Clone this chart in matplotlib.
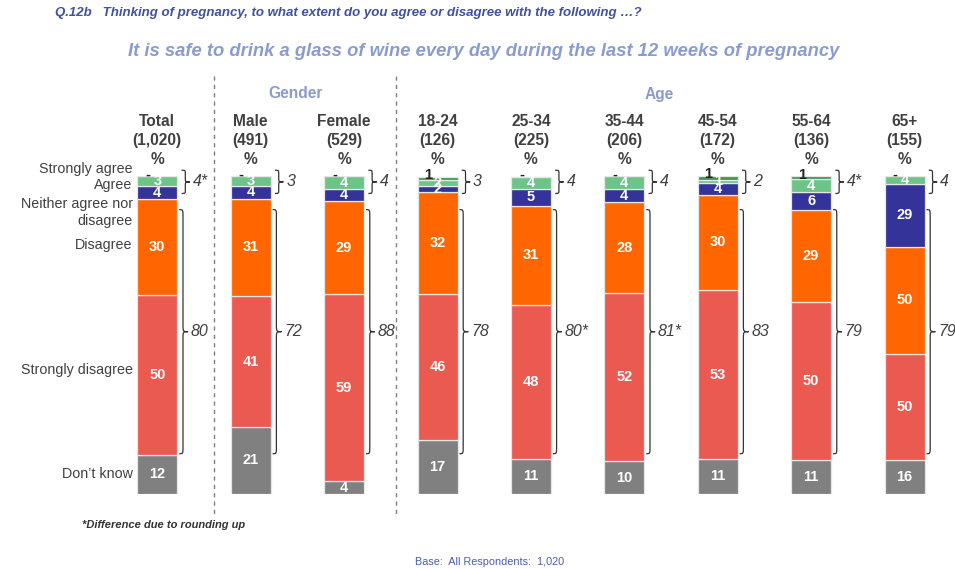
import matplotlib
matplotlib.use("Agg")
import matplotlib.pyplot as plt
from matplotlib.path import Path
from matplotlib.patches import PathPatch
from matplotlib.transforms import blended_transform_factory

plt.rcParams['font.family'] = ['Liberation Sans', 'DejaVu Sans']

# ---------------- data ----------------
categories = ["Total", "Male", "Female", "18-24", "25-34", "35-44", "45-54", "55-64", "65+"]
bases = ["(1,020)", "(491)", "(529)", "(126)", "(225)", "(206)", "(172)", "(136)", "(155)"]

# bar heights (%) as drawn in the picture
dont_know = [12.1, 21.0, 3.9, 17.0, 10.9, 10.2, 10.9, 10.6, 10.6]
strongly_disagree = [50.6, 41.2, 59.0, 45.9, 48.6, 53.0, 53.2, 49.7, 33.5]
disagree = [30.15, 30.75, 29.2, 32.0, 31.3, 28.6, 30.1, 29.0, 33.7]
neither = [4.0, 3.9, 3.9, 2.0, 5.1, 4.2, 3.7, 5.8, 19.7]
agree = [3.15, 3.15, 4.0, 2.0, 4.0, 4.0, 1.05, 3.9, 2.5]
strongly_agree = [0, 0, 0, 1.0, 0, 0, 1.05, 0.95, 0]

# printed value labels
dk_lbl = ["12", "21", "4", "17", "11", "10", "11", "11", "16"]
sd_lbl = ["50", "41", "59", "46", "48", "52", "53", "50", "50"]
d_lbl = ["30", "31", "29", "32", "31", "28", "30", "29", "50"]
n_lbl = ["4", "4", "4", "2", "5", "4", "4", "6", "29"]
a_lbl = ["3", "3", "4", "2", "4", "4", "1", "4", "4"]
sa_lbl = ["-", "-", "-", "1", "-", "-", "1", "1", "-"]
agree_net = ["4*", "3", "4", "3", "4", "4", "2", "4*", "4"]
disagree_net = ["80", "72", "88", "78", "80*", "81*", "83", "79", "79"]

row_labels = ["Strongly agree", "Agree", "Neither agree nor", "disagree", "Disagree",
              "Strongly disagree", "Don\u2019t know"]

# ---------------- style ----------------
W, H = 955, 569
C_SA = "#3a9a55"
C_A = "#6cc487"
C_N = "#333399"
C_D = "#ff6600"
C_SD = "#eb5a50"
C_DK = "#808080"
TXT = "#404040"

fig = plt.figure(figsize=(W / 100, H / 100), dpi=100)

def fx(px):
    return px / W

def fy(py):
    return 1 - py / H

spacing = 93.4
first = 157.3
bottom_px = 493.7
ppp = 3.174  # pixels per percent
ax = fig.add_axes([fx(first - 0.5 * spacing), (H - bottom_px) / H,
                   9 * spacing / W, 100 * ppp / H])
ax.set_xlim(-0.5, 8.5)
ax.set_ylim(0, 100)
ax.axis("off")

x = list(range(len(categories)))
series = [dont_know, strongly_disagree, disagree, neither, agree, strongly_agree]
labels = [dk_lbl, sd_lbl, d_lbl, n_lbl, a_lbl, None]
colors = [C_DK, C_SD, C_D, C_N, C_A, C_SA]
bw = 40 / spacing
bottoms = [0.0] * len(x)
for vals, lbls, col in zip(series, labels, colors):
    ax.bar(x, vals, bottom=bottoms, width=bw, color=col, edgecolor="#e6e6e6",
           linewidth=0.9)
    if lbls is not None:
        for i in x:
            ax.text(i, bottoms[i] + vals[i] / 2, lbls[i], ha="center", va="center",
                    color="white", fontsize=10.5, fontweight="bold")
    bottoms = [b + v for b, v in zip(bottoms, vals)]

for i in x:
    ax.text(i - 0.1, bottoms[i] + 0.6, sa_lbl[i], ha="center", va="center",
            color="#222222", fontsize=10.5, fontweight="bold")


def brace(i, yt, yb, x0, xm, xt, r):
    ym = (yt + yb) / 2
    verts = [(i + x0, yt), (i + xm, yt), (i + xm, yt), (i + xm, yt - r),
             (i + xm, ym + r),
             (i + xm, ym), (i + xm, ym), (i + xt, ym),
             (i + xm, ym), (i + xm, ym), (i + xm, ym - r),
             (i + xm, yb + r),
             (i + xm, yb), (i + xm, yb), (i + x0, yb)]
    codes = [Path.MOVETO, Path.CURVE4, Path.CURVE4, Path.CURVE4,
             Path.LINETO,
             Path.CURVE4, Path.CURVE4, Path.CURVE4,
             Path.CURVE4, Path.CURVE4, Path.CURVE4,
             Path.LINETO,
             Path.CURVE4, Path.CURVE4, Path.CURVE4]
    p = PathPatch(Path(verts, codes), facecolor="none", edgecolor="#333333",
                  linewidth=0.9, clip_on=False)
    ax.add_patch(p)
    return ym

for i in x:
    ym = brace(i, 101.9, 94.6, 0.26, 0.30, 0.35, 1.2)
    ax.text(i + 0.38, ym, agree_net[i], ha="left", va="center", color=TXT,
            fontsize=11.5, fontstyle="italic")
    ym = brace(i, 89.5, 12.6, 0.235, 0.275, 0.33, 2.2)
    ax.text(i + 0.36, ym, disagree_net[i], ha="left", va="center", color=TXT,
            fontsize=11.5, fontstyle="italic")

# column headers
tr = blended_transform_factory(ax.transData, fig.transFigure)
for i in x:
    ax.text(i, fy(121.5), categories[i], transform=tr, ha="center", va="center",
            color=TXT, fontsize=11.2, fontweight="bold")
    ax.text(i, fy(141), bases[i], transform=tr, ha="center", va="center",
            color=TXT, fontsize=11.2, fontweight="bold")
    ax.text(i, fy(159.5), "%", transform=tr, ha="center", va="center",
            color=TXT, fontsize=11.2, fontweight="bold")

# row labels
row_y = [169.5, 185.5, 204, 221, 245, 370, 474]
for lbl, py in zip(row_labels, row_y):
    fig.text(fx(132.7), fy(py), lbl, ha="right", va="center", color=TXT, fontsize=10.3)

# group headers
fig.text(fx(295.5), fy(94), "Gender", ha="center", va="center", color="#8c9bc8",
         fontsize=11.2, fontweight="bold")
fig.text(fx(659), fy(94), "Age", ha="center", va="center", color="#8c9bc8",
         fontsize=11.2, fontweight="bold")

# dashed separators
for px in (214, 396):
    fig.add_artist(plt.Line2D([fx(px), fx(px)], [fy(76), fy(514)], color="#7f7f7f",
                              linewidth=1, linestyle=(0, (3, 3))))

# titles
fig.text(fx(55), fy(13), "Q.12b   Thinking of pregnancy, to what extent do you agree or disagree with the following \u2026?",
         ha="left", va="center", color="#3f51a0", fontsize=9.5, fontweight="bold",
         fontstyle="italic")
fig.text(fx(484), fy(52),
         "It is safe to drink a glass of wine every day during the last 12 weeks of pregnancy",
         ha="center", va="center", color="#8a9bd1", fontsize=13.2, fontweight="bold",
         fontstyle="italic")

fig.text(fx(82), fy(525), "*Difference due to rounding up", ha="left", va="center",
         color="#333333", fontsize=8, fontweight="bold", fontstyle="italic")
fig.text(fx(490), fy(562), "Base:  All Respondents:  1,020", ha="center", va="center",
         color="#4a5db0", fontsize=7.8)

fig.savefig("out.png", dpi=100)
